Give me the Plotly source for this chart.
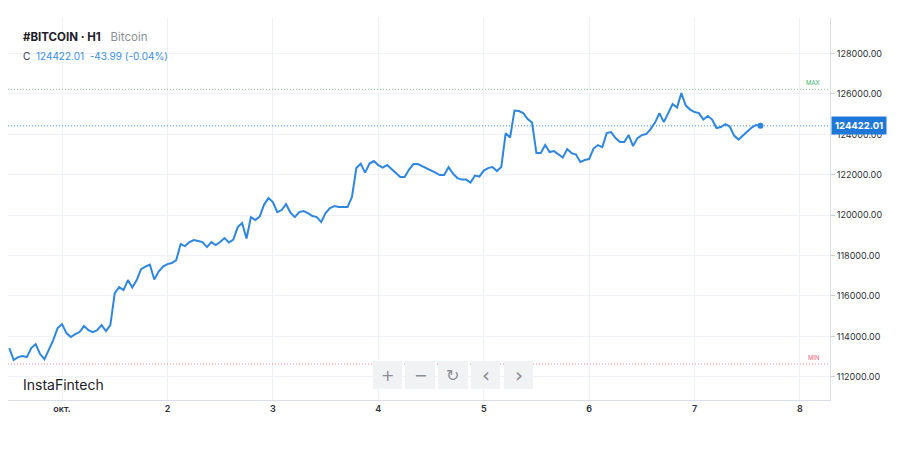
import plotly.graph_objects as go
import pandas as pd

# ---- data (hourly closes) ----
start_time = "2025-09-30 12:00"
closes = [
    113421, 112827, 112975, 113025, 112975, 113421, 113619, 113124, 112876, 113322,
    113817, 114411, 114609, 114163, 113965, 114114, 114213, 114510, 114312, 114213,
    114312, 114559, 114262, 114559, 116143, 116440, 116292, 116787, 116415, 116787,
    117331, 117455, 117554, 116811, 117207, 117455, 117579, 117628, 117777,
    118569, 118470, 118668, 118767, 118717, 118668, 118420, 118668, 118519, 118668,
    118866, 118643, 118791, 119410, 119608, 118841, 119905, 119757, 119930, 120524,
    120846, 120648, 120153, 120252, 120549, 120128, 119905, 120153, 120202, 120103,
    119955, 119905, 119658, 120103, 120351, 120450, 120400, 120400, 120400, 120895,
    122331, 122553, 122108, 122553, 122677, 122479, 122355, 122479, 122256, 122083,
    121885, 121885, 122256, 122529, 122529, 122430, 122331, 122232, 122108, 121984,
    121984, 122380, 122058, 121836, 121761, 121761, 121613, 121959, 121910, 122207,
    122331, 122380, 122182, 122380, 124063, 123840, 125177, 125152, 125053, 124756,
    124583, 123073, 123073, 123469, 123123, 123172, 123024, 122850, 123271, 123073,
    122999, 122628, 122727, 122776, 123296, 123469, 123370, 124063, 124113, 123816,
    123618, 123618, 123964, 123420, 123816, 123964, 124014, 124261, 124583, 125053,
    124608, 125053, 125499, 125325, 126043, 125424, 125226, 125103, 125053, 124731,
    124905, 124731, 124311, 124360, 124509, 124385, 123939, 123741, 123939, 124137,
    124335, 124466, 124422.01,
]
last_price = 124422.01
max_level = 126226
min_level = 112630

day_ticks = ["2025-10-01", "2025-10-02", "2025-10-03", "2025-10-04",
             "2025-10-05", "2025-10-06", "2025-10-07", "2025-10-08"]
day_labels = ["окт.", "2", "3", "4", "5", "6", "7", "8"]
price_ticks = [112000, 114000, 116000, 118000, 120000, 122000, 124000, 126000, 128000]

times = pd.date_range(start_time, periods=len(closes), freq="h")

# ---- layout (the page body adds an 8px offset) ----
OFF = 8
W, H = 884, 434
L, R, T, B = 0, 822, 10, 392   # plot area in figure pixels


def px(x):  # screen pixel -> paper x
    return (x - OFF - L) / (R - L)


def py(y):  # screen pixel -> paper y
    return (B - (y - OFF)) / (B - T)


FONT = "Inter, 'Noto Sans', sans-serif"
BLUE = "#2e86de"

fig = go.Figure()
fig.add_trace(go.Scatter(
    x=times, y=closes, mode="lines",
    line=dict(color=BLUE, width=2), hoverinfo="skip"))
fig.add_trace(go.Scatter(
    x=[times[-1]], y=[closes[-1]], mode="markers",
    marker=dict(color=BLUE, size=6), hoverinfo="skip"))

shapes = []
for lvl, col in [(max_level, "#7fcf9f"), (min_level, "#f28b9b"), (last_price, "#3a8ee6")]:
    shapes.append(dict(type="line", xref="paper", yref="y", x0=0, x1=1, y0=lvl, y1=lvl,
                       line=dict(color=col, width=1, dash="1px,2px"), layer="above"))

buttons = [(373, 402, "+"), (405, 435, "−"), (438, 468, "↻"), (471, 500, "‹"), (504, 533, "›")]
annotations = []
for x0, x1, sym in buttons:
    shapes.append(dict(type="rect", xref="paper", yref="paper", x0=px(x0), x1=px(x1),
                       y0=py(389), y1=py(361), fillcolor="#f1f2f4", line=dict(width=0),
                       layer="above"))
    annotations.append(dict(xref="paper", yref="paper", x=px((x0 + x1) / 2), y=py(375),
                            text=sym, showarrow=False, xanchor="center", yanchor="middle",
                            font=dict(family="DejaVu Sans", size=16 if sym not in "‹›" else 20,
                                      color="#8a8d93")))

annotations += [
    dict(xref="paper", yref="paper", x=px(21), y=py(37), xanchor="left", yanchor="middle",
         showarrow=False,
         text="<b>#BITCOIN · H1</b>   <span style='color:#8c9098'>Bitcoin</span>",
         font=dict(family=FONT, size=11.5, color="#1d2026")),
    dict(xref="paper", yref="paper", x=px(21), y=py(56), xanchor="left", yanchor="middle",
         showarrow=False,
         text=("C  <span style='color:#3a8ee6'>124422.01</span>  "
               "<span style='color:#3a8ee6'>-43.99 (-0.04%)</span>"),
         font=dict(family=FONT, size=10, color="#2b2f36")),
    dict(xref="paper", yref="paper", x=px(21), y=py(384), xanchor="left", yanchor="middle",
         showarrow=False, text="InstaFintech",
         font=dict(family=FONT, size=14, color="#1d2026")),
    dict(xref="paper", yref="y", x=px(822), y=max_level, xanchor="right", yanchor="bottom",
         showarrow=False, text="MAX", yshift=1,
         font=dict(family=FONT, size=6, color="#3bb06a")),
    dict(xref="paper", yref="y", x=px(822), y=min_level, xanchor="right", yanchor="bottom",
         showarrow=False, text="MIN", yshift=1,
         font=dict(family=FONT, size=6, color="#f0607a")),
    dict(xref="paper", yref="y", x=1, y=last_price, xanchor="left", yanchor="middle",
         showarrow=False, text="<b>124422.01</b>", xshift=1,
         bgcolor="#1f78d8", borderpad=3,
         font=dict(family=FONT, size=9.5, color="white")),
]

fig.update_layout(
    width=W, height=H,
    margin=dict(l=L, r=W - R, t=T, b=H - B),
    paper_bgcolor="white", plot_bgcolor="white",
    showlegend=False, hovermode=False,
    shapes=shapes, annotations=annotations,
    xaxis=dict(
        range=["2025-09-30 11:42", "2025-10-08 06:50"],
        tickvals=day_ticks, ticktext=day_labels,
        showgrid=True, gridcolor="#eef1f5", gridwidth=1,
        showline=True, linecolor="#d9dee6", linewidth=1,
        ticks="", zeroline=False,
        tickfont=dict(family=FONT, size=9, color="#2b2f36", weight=600),
    ),
    yaxis=dict(
        side="right", range=[110850, 129760],
        tickvals=price_ticks, tickformat=".2f",
        showgrid=True, gridcolor="#eef1f5", gridwidth=1,
        showline=True, linecolor="#d9dee6", linewidth=1,
        ticks="outside", ticklen=4, tickcolor="#c9ced6", zeroline=False,
        tickfont=dict(family=FONT, size=9, color="#2b2f36"),
    ),
)

fig.write_html("out.html")
